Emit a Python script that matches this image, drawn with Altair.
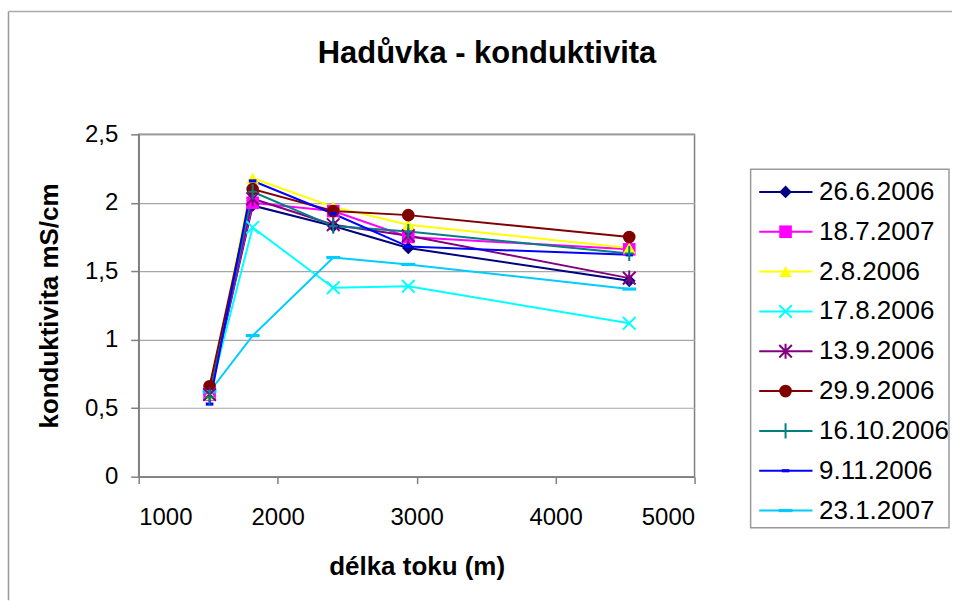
import altair as alt
import pandas as pd

FONT = "Liberation Sans"

title_text = "Hadůvka - konduktivita"
x_title = "délka toku (m)"
y_title = "konduktivita mS/cm"

distance = [1510, 1820, 2400, 2940, 4530]

series_names = ["26.6.2006", "18.7.2007", "2.8.2006", "17.8.2006", "13.9.2006",
                "29.9.2006", "16.10.2006", "9.11.2006", "23.1.2007"]

v_26_6_2006 = [0.60, 1.98, 1.83, 1.67, 1.43]
v_18_7_2007 = [0.60, 2.00, 1.94, 1.75, 1.66]
v_2_8_2006 = [0.60, 2.18, 1.97, 1.84, 1.67]
v_17_8_2006 = [0.60, 1.82, 1.38, 1.39, 1.12]
v_13_9_2006 = [0.60, 2.03, 1.84, 1.76, 1.45]
v_29_9_2006 = [0.66, 2.10, 1.94, 1.91, 1.75]
v_16_10_2006 = [0.58, 2.08, 1.83, 1.79, 1.63]
v_9_11_2006 = [0.53, 2.16, 1.92, 1.68, 1.62]
v_23_1_2007 = [0.62, 1.03, 1.60, 1.55, 1.37]

all_values = [v_26_6_2006, v_18_7_2007, v_2_8_2006, v_17_8_2006, v_13_9_2006,
              v_29_9_2006, v_16_10_2006, v_9_11_2006, v_23_1_2007]

colors = ["#000080", "#FF00FF", "#FFFF00", "#00FFFF", "#800080",
          "#800000", "#008080", "#0000FF", "#00CCFF"]

shapes = [
    "diamond",
    "square",
    "triangle-up",
    "M-1,-1L1,1M-1,1L1,-1",
    "M-1,-1L1,1M-1,1L1,-1M0,-1.2L0,1.2",
    "circle",
    "M0,-1.2L0,1.2M-0.7,0L0.7,0",
    "M-0.6,-0.25H0.6V0.25H-0.6Z",
    "M-1.1,-0.25H1.1V0.25H-1.1Z",
]

stroked_names = ["17.8.2006", "13.9.2006", "16.10.2006"]
filled_names = [s for s in series_names if s not in stroked_names]

x_ticks = [1000, 2000, 3000, 4000, 5000]
y_ticks = [0, 0.5, 1, 1.5, 2, 2.5]

rows = []
for name, vals in zip(series_names, all_values):
    for d, v in zip(distance, vals):
        rows.append({"series": name, "distance": d, "value": v})
df = pd.DataFrame(rows)

leg_df = pd.DataFrame({"series": series_names, "row": list(range(len(series_names)))})
one = pd.DataFrame({"label": [title_text]})

color_enc = alt.Color("series:N", scale=alt.Scale(domain=series_names, range=colors), legend=None)
shape_enc = alt.Shape("series:N", scale=alt.Scale(domain=series_names, range=shapes), legend=None)

x_scale = alt.Scale(domain=[1000, 5000], nice=False, zero=False)
y_scale = alt.Scale(domain=[0, 2.5], nice=False, zero=True)

x_axis = alt.Axis(values=x_ticks, format="d", title=x_title, grid=False,
                  tickSize=7, labelPadding=22, titlePadding=24)
y_axis = alt.Axis(values=y_ticks, labelExpr="replace(toString(datum.value), '.', ',')",
                  title=y_title, grid=True, tickSize=8, labelPadding=13, titlePadding=22)

x_enc = alt.X("distance:Q", scale=x_scale, axis=x_axis)
y_enc = alt.Y("value:Q", scale=y_scale, axis=y_axis)

MSIZE = 160

base = alt.Chart(df)
lines = base.mark_line(strokeWidth=2).encode(x=x_enc, y=y_enc, color=color_enc)
pts_fill = base.transform_filter(
    alt.FieldOneOfPredicate(field="series", oneOf=filled_names)
).mark_point(filled=True, size=MSIZE, opacity=1).encode(
    x=x_enc, y=y_enc, color=color_enc, shape=shape_enc,
)
pts_stroke = base.transform_filter(
    alt.FieldOneOfPredicate(field="series", oneOf=stroked_names)
).mark_point(filled=False, size=MSIZE, opacity=1, strokeWidth=2).encode(
    x=x_enc, y=y_enc, color=color_enc, shape=shape_enc,
)
main = alt.layer(lines, pts_fill, pts_stroke)

leg_y = alt.Y("row:Q", scale=alt.Scale(domain=[0, 8], range=[57.7, 377], nice=False, zero=False), axis=None)
leg_base = alt.Chart(leg_df)
leg_box = alt.Chart(one).mark_rect(fill="white", fillOpacity=0, stroke="#9a9a9a", strokeWidth=1.5).encode(
    x=alt.value(613.2), x2=alt.value(812), y=alt.value(35), y2=alt.value(394.3))
leg_lines = leg_base.mark_rule(strokeWidth=2).encode(
    x=alt.value(621.8), x2=alt.value(675.2), y=leg_y, color=color_enc)
leg_fill = leg_base.transform_filter(
    alt.FieldOneOfPredicate(field="series", oneOf=filled_names)
).mark_point(filled=True, size=MSIZE, opacity=1).encode(
    x=alt.value(648.2), y=leg_y, color=color_enc, shape=shape_enc)
leg_stroke = leg_base.transform_filter(
    alt.FieldOneOfPredicate(field="series", oneOf=stroked_names)
).mark_point(filled=False, size=MSIZE, opacity=1, strokeWidth=2).encode(
    x=alt.value(648.2), y=leg_y, color=color_enc, shape=shape_enc)
leg_text = leg_base.mark_text(align="left", baseline="middle", font=FONT, fontSize=26, color="black").encode(
    x=alt.value(681.8), y=leg_y, text="series:N")
legend = alt.layer(leg_box, leg_lines, leg_fill, leg_stroke, leg_text)

frame_left = alt.Chart(one).mark_rule(color="#999999", strokeWidth=1.5).encode(
    x=alt.value(-130.5), y=alt.value(-123), y2=alt.value(467))
frame_top = alt.Chart(one).mark_rule(color="#aaaaaa", strokeWidth=1.5).encode(
    x=alt.value(-130.5), x2=alt.value(815), y=alt.value(-123))

title = alt.Chart(one).mark_text(font=FONT, fontSize=31, fontWeight="bold", align="center",
                                 baseline="alphabetic", color="black").encode(
    x=alt.value(349), y=alt.value(-71.3), text="label:N")

chart = alt.layer(frame_left, frame_top, main, legend, title).resolve_scale(
    y="independent"
).properties(
    width=557, height=343,
    padding={"left": 7, "top": 10, "right": 0, "bottom": 0},
).configure_view(
    stroke="#808080", strokeWidth=1.5
).configure_axis(
    domainColor="#808080", domainWidth=1.5, tickColor="#808080", tickWidth=1.5,
    labelFont=FONT, labelFontSize=24, labelColor="black",
    titleFont=FONT, titleFontSize=26, titleFontWeight="bold", titleColor="black",
    gridColor="#a6a6a6", gridWidth=1.2,
)

chart.save("out.html", embed_options={"renderer": "svg", "actions": False})
